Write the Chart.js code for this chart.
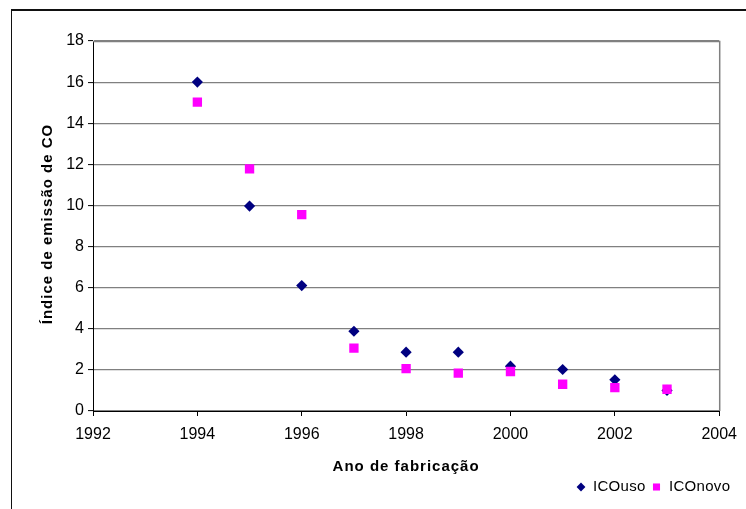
<!DOCTYPE html>
<html>
<head>
<meta charset="utf-8">
<script src="https://cdn.jsdelivr.net/npm/chart.js@4/dist/chart.umd.min.js"></script>
<style>
  html, body { margin: 0; padding: 0; background: #fff; }
  #wrap { position: absolute; left: 0; top: 0; width: 746px; height: 509px; }
</style>
</head>
<body>
<div id="wrap"><canvas id="c" width="746" height="509"></canvas></div>
<script>
const years = [1994, 1995, 1996, 1997, 1998, 1999, 2000, 2001, 2002, 2003];
const icoUso = [16.0, 9.97, 6.1, 3.88, 2.86, 2.86, 2.18, 2.02, 1.52, 1.0];
const icoNovo = [15.03, 11.78, 9.55, 3.06, 2.06, 1.84, 1.92, 1.3, 1.14, 1.06];
const xTicks = [1992, 1994, 1996, 1998, 2000, 2002, 2004];
const yTicks = [0, 2, 4, 6, 8, 10, 12, 14, 16, 18];
const seriesNames = ['ICOuso', 'ICOnovo'];
const xTitle = 'Ano de fabricação';
const yTitle = 'Índice de emissão de CO';

const FONT = '"Liberation Sans", Arial, sans-serif';

const toPts = (xs, ys) => xs.map((x, i) => ({ x: x, y: ys[i] }));

const decor = {
  id: 'decor',
  beforeDraw(chart) {
    const ctx = chart.ctx;
    ctx.save();
    ctx.fillStyle = '#fff';
    ctx.fillRect(0, 0, chart.width, chart.height);
    ctx.strokeStyle = '#111';
    ctx.lineWidth = 2;
    ctx.beginPath();
    ctx.moveTo(11, 10);
    ctx.lineTo(chart.width, 10);
    ctx.stroke();
    ctx.lineWidth = 1;
    ctx.beginPath();
    ctx.moveTo(11.5, 10);
    ctx.lineTo(11.5, chart.height);
    ctx.stroke();
    ctx.restore();
  },
  beforeDatasetsDraw(chart) {
    const ctx = chart.ctx;
    const a = chart.chartArea;
    ctx.save();
    ctx.strokeStyle = '#808080';
    ctx.lineWidth = 1.5;
    ctx.beginPath();
    ctx.moveTo(a.left, a.top + 0.5);
    ctx.lineTo(a.right + 0.5, a.top + 0.5);
    ctx.lineTo(a.right + 0.5, a.bottom);
    ctx.stroke();
    ctx.restore();
  },
  afterDraw(chart) {
    const ctx = chart.ctx;
    const a = chart.chartArea;
    ctx.save();
    ctx.fillStyle = '#000';
    ctx.font = 'bold 15px ' + FONT;
    ctx.letterSpacing = '1px';
    ctx.textAlign = 'center';
    ctx.textBaseline = 'middle';
    ctx.fillText(xTitle, (a.left + a.right) / 2, 467);
    ctx.save();
    ctx.translate(48, (a.top + a.bottom) / 2 - 2);
    ctx.rotate(-Math.PI / 2);
    ctx.fillText(yTitle, 0, 0);
    ctx.restore();

    // legend
    ctx.letterSpacing = '0.3px';
    ctx.font = '15px ' + FONT;
    ctx.textAlign = 'left';
    const ly = 487;
    const items = [
      { x: 581, tx: 593, r: 4.4 },
      { x: 656.5, tx: 669, r: 5.0 }
    ];
    chart.data.datasets.forEach((ds, i) => {
      const it = items[i];
      ctx.fillStyle = ds.backgroundColor;
      ctx.strokeStyle = ds.borderColor;
      Chart.helpers.drawPoint(ctx, { pointStyle: ds.pointStyle, radius: it.r, borderWidth: 0, rotation: 0 }, it.x, ly);
      ctx.fillStyle = '#000';
      ctx.fillText(ds.label, it.tx, ly);
    });
    ctx.restore();
  }
};

new Chart(document.getElementById('c'), {
  type: 'scatter',
  data: {
    datasets: [
      {
        label: seriesNames[0],
        data: toPts(years, icoUso),
        pointStyle: 'rectRot',
        pointRadius: 5.6,
        pointHoverRadius: 5.6,
        borderWidth: 0,
        backgroundColor: '#000080',
        borderColor: '#000080',
        order: 1
      },
      {
        label: seriesNames[1],
        data: toPts(years, icoNovo),
        pointStyle: 'rect',
        pointRadius: 6.6,
        pointHoverRadius: 6.6,
        borderWidth: 0,
        backgroundColor: '#FF00FF',
        borderColor: '#FF00FF',
        order: 0
      }
    ]
  },
  options: {
    responsive: false,
    animation: false,
    events: [],
    layout: { padding: { top: 41, right: 26, left: 0, bottom: 0 } },
    plugins: { legend: { display: false }, tooltip: { enabled: false }, title: { display: false } },
    scales: {
      x: {
        type: 'linear',
        min: xTicks[0],
        max: xTicks[xTicks.length - 1],
        afterBuildTicks(scale) { scale.ticks = xTicks.map(v => ({ value: v })); },
        afterFit(scale) { scale.height = 98; },
        ticks: {
          color: '#000',
          font: { family: FONT, size: 16 },
          padding: 9,
          maxRotation: 0,
          autoSkip: false,
          callback: v => String(v)
        },
        grid: { drawOnChartArea: false, tickLength: 5, tickColor: '#000', tickWidth: 1 },
        border: { color: '#000', width: 1 }
      },
      y: {
        min: yTicks[0],
        max: yTicks[yTicks.length - 1],
        afterBuildTicks(scale) { scale.ticks = yTicks.map(v => ({ value: v })); },
        afterFit(scale) { scale.width = 93; },
        ticks: {
          color: '#000',
          font: { family: FONT, size: 16 },
          padding: 4,
          autoSkip: false,
          callback: v => String(v)
        },
        grid: { color: '#808080', lineWidth: 1.2, tickLength: 5, tickColor: '#000', tickWidth: 1 },
        border: { color: '#000', width: 1 }
      }
    }
  },
  plugins: [decor]
});
</script>
</body>
</html>
